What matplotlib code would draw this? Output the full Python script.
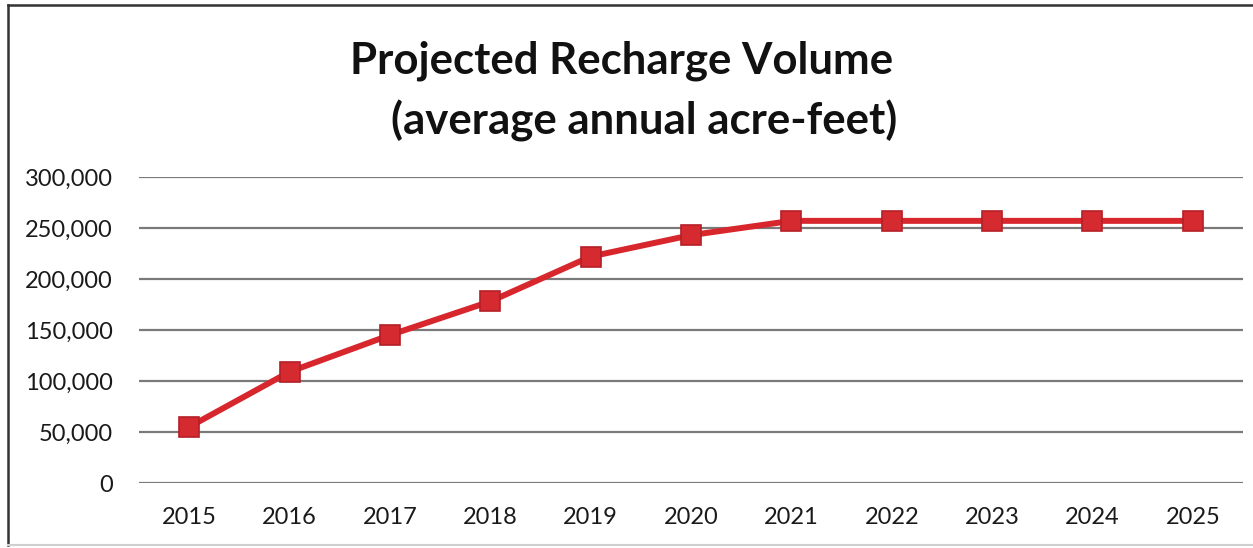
import matplotlib.pyplot as plt
from matplotlib.patches import Rectangle
from matplotlib.ticker import FuncFormatter

# Data
years = ['2015', '2016', '2017', '2018', '2019', '2020',
         '2021', '2022', '2023', '2024', '2025']
volume = [55000, 109000, 145000, 178000, 222000, 243000,
          257000, 257000, 257000, 257000, 257000]
y_ticks = [0, 50000, 100000, 150000, 200000, 250000, 300000]

plt.rcParams['font.family'] = ['Lato', 'DejaVu Sans']

fig = plt.figure(figsize=(12.53, 5.48), dpi=100)
ax = fig.add_axes([139 / 1253, 65 / 548, 1104 / 1253, 306 / 548])

# Chart border (left and top dark, bottom faint, right cut off)
fig.add_artist(plt.Line2D([8 / 1253, 8 / 1253], [3 / 548, 543 / 548],
                          transform=fig.transFigure, color='#333333', lw=1.8))
fig.add_artist(plt.Line2D([8 / 1253, 1], [543 / 548, 543 / 548],
                          transform=fig.transFigure, color='#333333', lw=1.8))
fig.add_artist(plt.Line2D([8 / 1253, 1], [3 / 548, 3 / 548],
                          transform=fig.transFigure, color='#d0d0d0', lw=1.5))

x = range(len(years))
ax.plot(x, volume, '-s', color='#d8262d', linewidth=4.3,
        markersize=14, markerfacecolor='#d62a31',
        markeredgecolor='#b51f26', markeredgewidth=1.2, zorder=3)

ax.set_xlim(-0.5, len(years) - 0.5)
ax.set_ylim(0, 300000)
ax.set_yticks(y_ticks)
ax.yaxis.set_major_formatter(FuncFormatter(lambda v, p: f'{int(v):,}'))
ax.set_xticks(list(x))
ax.set_xticklabels(years)
ax.grid(axis='y', color='#7a7a7a', linewidth=1.6)
ax.set_axisbelow(True)
for s in ax.spines.values():
    s.set_visible(False)
ax.tick_params(length=0, labelsize=17, colors='#1a1a1a')
ax.tick_params(axis='x', pad=17)
ax.tick_params(axis='y', pad=19)

fig.text(0.496, 0.89, 'Projected Recharge Volume', ha='center', va='center',
         fontsize=31.5, fontweight='bold', color='#111111')
fig.text(0.514, 0.779, '(average annual acre-feet)', ha='center', va='center',
         fontsize=31.5, fontweight='bold', color='#111111')

fig.savefig('out.png', dpi=100)
